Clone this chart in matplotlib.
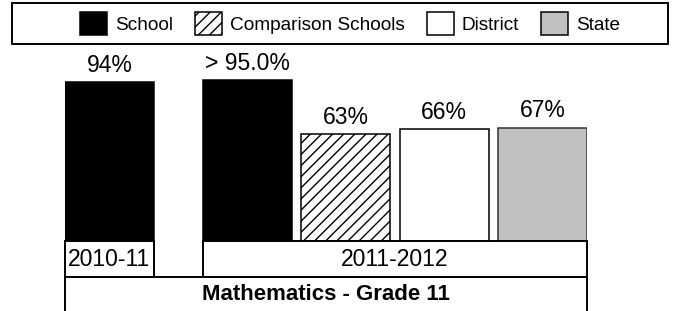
import numpy as np
from matplotlib import pyplot as plt
from matplotlib.patches import Rectangle, Patch

plt.rcParams['font.family'] = ['Liberation Sans', 'DejaVu Sans']
plt.rcParams['hatch.linewidth'] = 1.0

# Data
series = ['School', 'Comparison Schools', 'District', 'State']
years = ['2010-11', '2011-2012']
bar_series = ['School', 'School', 'Comparison Schools', 'District', 'State']
values = [94, 95, 63, 66, 67]
value_labels = ['94%', '> 95.0%', '63%', '66%', '67%']
subject = 'Mathematics - Grade 11'

# Styles per series
face = {'School': 'black', 'Comparison Schools': 'white', 'District': 'white', 'State': '#c0c0c0'}
hatch = {'School': None, 'Comparison Schools': '///', 'District': None, 'State': None}
edge = {'School': 'black', 'Comparison Schools': 'black', 'District': 'black', 'State': '#333333'}

W, H = 673, 311
fig = plt.figure(figsize=(W / 100, H / 100), dpi=100)

# Layout (pixels)
left, right = 65, 587
base = 241
px_per_pct = 159 / 94
xmax = 5.3
lefts = [0, 1.4, 2.4, 3.4, 4.4]
bw = 0.9

ax = fig.add_axes([left / W, (H - base) / H, (right - left) / W, 100 * px_per_pct / H])
ax.set_xlim(0, xmax)
ax.set_ylim(0, 100)
ax.axis('off')

for x, v, s, lab in zip(lefts, values, bar_series, value_labels):
    ax.bar(x, v, width=bw, align='edge', color=face[s], hatch=hatch[s],
           edgecolor=edge[s], linewidth=1.1)
    ax.annotate(lab, (x + bw / 2, v), xytext=(0, 7.5), textcoords='offset points',
                ha='center', va='baseline', fontsize=16.5)

# Category boxes under the bars
lab_ax = fig.add_axes([left / W, 0, (right - left) / W, (H - base) / H])
lab_ax.set_xlim(0, xmax)
lab_ax.set_ylim(0, H - base)
lab_ax.axis('off')
row1 = (H - 277, H - base)
year_spans = [(0, bw), (1.4, xmax)]
for (x0, x1), yr in zip(year_spans, years):
    lab_ax.add_patch(Rectangle((x0, row1[0]), x1 - x0, row1[1] - row1[0],
                               facecolor='white', edgecolor='black', linewidth=1.4, clip_on=False))
    lab_ax.text((x0 + x1) / 2, sum(row1) / 2, yr, ha='center', va='center', fontsize=16.5)
lab_ax.add_patch(Rectangle((0, -10), xmax, row1[0] + 10, facecolor='white',
                           edgecolor='black', linewidth=1.4, clip_on=False))
lab_ax.text(xmax / 2, H - 294, subject, ha='center', va='center', fontsize=16, fontweight='bold')

# Legend box
fig.add_artist(Rectangle((12 / W, 1 - 44 / H), 656 / W, 41 / H, transform=fig.transFigure,
                         facecolor='white', edgecolor='black', linewidth=1.4))
handles = [Patch(facecolor=face[s], hatch=hatch[s], edgecolor='black', linewidth=1.1, label=s)
           for s in series]
fig.legend(handles=handles, loc='center', bbox_to_anchor=(350 / W, 1 - 23.5 / H), ncol=4,
           frameon=False, fontsize=13.7, handlelength=1.42, handleheight=1.5,
           handletextpad=0.42, columnspacing=1.15, borderpad=0)

fig.savefig('out.png', dpi=100)
